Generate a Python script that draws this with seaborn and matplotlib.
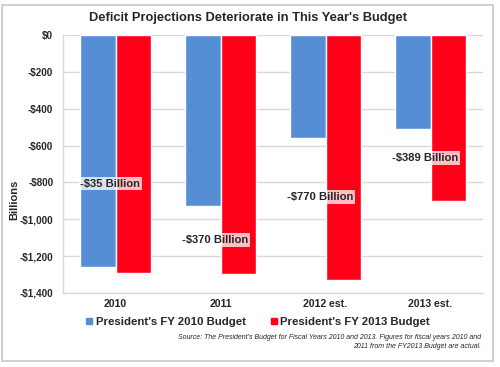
import numpy as np
import pandas as pd
import matplotlib
matplotlib.use("Agg")
import matplotlib.pyplot as plt
import seaborn as sns
from matplotlib.patches import Rectangle

# data (billions of dollars)
years = ["2010", "2011", "2012 est.", "2013 est."]
fy2010 = [-1258, -927, -557, -512]
fy2013 = [-1293, -1297, -1327, -901]
series = ["President's FY 2010 Budget", "President's FY 2013 Budget"]
diff_labels = ["-$35 Billion", "-$370 Billion", "-$770 Billion", "-$389 Billion"]
label_y = [-807, -1112, -879, -667]

df = pd.DataFrame({
    "year": years * 2,
    "value": fy2010 + fy2013,
    "budget": [series[0]] * 4 + [series[1]] * 4,
})

sns.set_style("white")
plt.rcParams['font.family'] = ['Liberation Sans', 'DejaVu Sans']

fig = plt.figure(figsize=(5, 3.67), dpi=100)
ax = fig.add_axes([63 / 500, 1 - 293 / 367, 420 / 500, 258 / 367])

pal = {series[0]: "#558ED5", series[1]: "#FF0019"}
sns.barplot(data=df, x="year", y="value", hue="budget", palette=pal,
            width=0.67, saturation=1, ax=ax, legend=False)

ax.set_ylim(-1400, 0)
ax.set_xlim(-0.5, 3.5)
ticks = np.arange(-1400, 1, 200)
ax.set_yticks(ticks)
ax.set_yticklabels([("-$" if v < 0 else "$") + f"{abs(v):,}" for v in ticks],
                   fontsize=7.1, fontweight="bold")
ax.set_xticks(range(4))
ax.set_xticklabels(years, fontsize=7.6, fontweight="bold")
ax.tick_params(axis="x", length=0, pad=4)
ax.tick_params(axis="y", length=0, pad=7)
ax.set_xlabel("")
ax.set_ylabel("")
ax.grid(axis="y", color="#d9d9d9", linewidth=1)
ax.set_axisbelow(True)
for s in ax.spines.values():
    s.set_color("#d9d9d9")
    s.set_linewidth(1)
ax.spines["top"].set_visible(False)
ax.spines["right"].set_visible(False)

for i, (txt, y) in enumerate(zip(diff_labels, label_y)):
    ax.text(i - 0.05, y, txt, ha="center", va="center", fontsize=8.1, fontweight="bold",
            bbox=dict(boxstyle="square,pad=0.15", facecolor="white", edgecolor="none", alpha=0.75))

fig.text(14 / 500, 1 - 200 / 367, "Billions", rotation=90, ha="center", va="center",
         fontsize=8, fontweight="bold")

fig.text(248 / 500, 1 - 18 / 367, "Deficit Projections Deteriorate in This Year's Budget",
         ha="center", va="center", fontsize=9.3, fontweight="bold")

handles = [Rectangle((0, 0), 1, 1, color=pal[s]) for s in series]
fig.legend(handles, series, loc="center", bbox_to_anchor=(258 / 500, 1 - 322 / 367), ncol=2,
           frameon=False, prop={"weight": "bold", "size": 8.2}, handlelength=0.55,
           handleheight=0.55, handletextpad=0.3, columnspacing=2.2)

fig.text(481 / 500, 1 - 342 / 367,
         "Source: The President's Budget for Fiscal Years 2010 and 2013. Figures for fiscal years 2010 and\n"
         "2011 from the FY2013 Budget are actual.",
         ha="right", va="center", fontsize=5, style="italic", linespacing=1.5)

fig.add_artist(Rectangle((2 / 500, 1 - 361 / 367), 491 / 500, 356 / 367,
                         transform=fig.transFigure, fill=False, edgecolor="#c8c8c8", linewidth=1.2))

fig.savefig("out.png", dpi=100)
